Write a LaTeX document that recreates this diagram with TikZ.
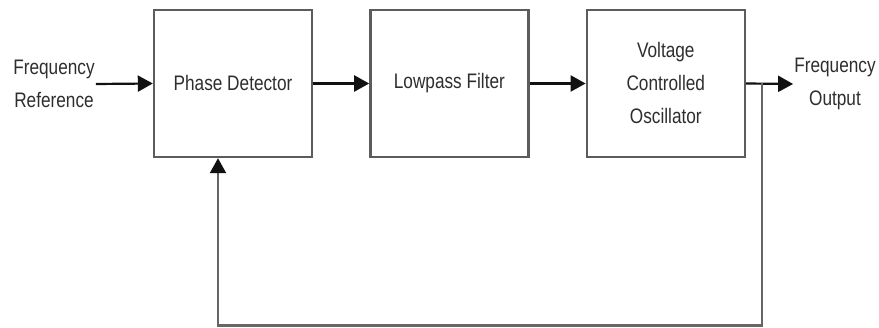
\documentclass[tikz,border=0pt]{standalone}
\usepackage{fontspec}
\setmainfont{Liberation Sans}[FakeStretch=0.82]
\usetikzlibrary{positioning,arrows.meta,calc}
\definecolor{lineC}{HTML}{111111}
\definecolor{boxC}{HTML}{5C5C5C}
\definecolor{fbC}{HTML}{666666}
\definecolor{darkC}{HTML}{2E2E2E}

\begin{document}
\begin{tikzpicture}[
  x=1pt, y=1pt,
  >={Triangle[length=15pt,width=16pt]},
  every node/.style={font=\fontsize{21}{33}\selectfont, text=darkC},
  blockbox/.style={draw=boxC, line width=2.4pt, fill=white,
                   minimum width=158pt, minimum height=147pt,
                   inner sep=2pt, align=center},
  sigtext/.style={inner sep=1pt, align=center},
  sigline/.style={->, line width=2.2pt, lineC},
]
\useasboundingbox (0,0) rectangle (879,328);

% ── Blocks ──
\node[blockbox] (pd) at (233,244.5) {Phase Detector};
\node[blockbox, right=56pt of pd] (lpf) {Lowpass Filter};
\node[blockbox, right=56pt of lpf] (vco) {Voltage\\Controlled\\Oscillator};

% ── Input / output labels ──
\node[sigtext] (fref) at (54,244) {Frequency\\Reference};
\node[sigtext] (fout) at (835,244) {Frequency\\Output};

% ── Forward path ──
\draw[sigline] (fref.east) -- (pd.west);
\draw[sigline] (pd.east) -- (lpf.west);
\draw[sigline] (lpf.east) -- (vco.west);
\draw[sigline] (vco.east) -- (fout.west);

% ── Feedback path (grey line, black tip) ──
\coordinate (tap) at ($(vco.east)+(16,0)$);
\coordinate (fbin) at ($(pd.south)+(-15,0)$);
\draw[-{Triangle[length=15pt,width=16pt,color=lineC]}, line width=2.2pt, fbC]
  (tap) -- ++(0,-242) -| (fbin);

\end{tikzpicture}
\end{document}
